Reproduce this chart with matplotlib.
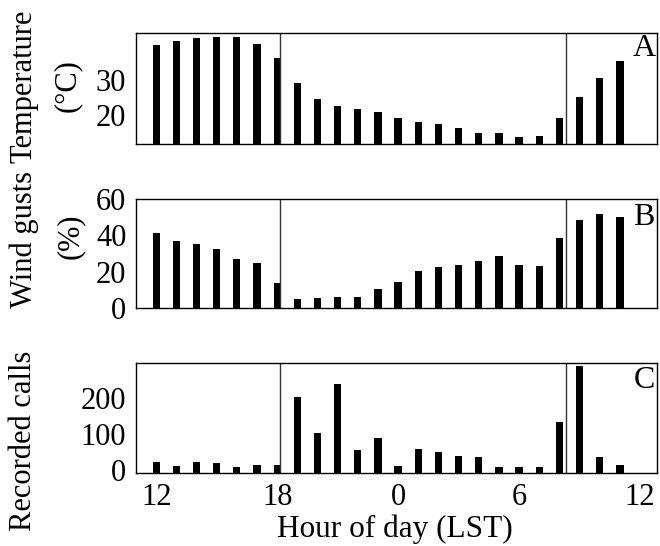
import matplotlib
matplotlib.use("Agg")
import matplotlib.pyplot as plt

# hour of day, 12 LST through 11 LST next day (as a continuous axis 12..35)
hours = list(range(12, 36))
temperature = [40.0, 41.2, 42.1, 42.4, 42.2, 40.3, 36.4, 29.2, 24.6, 22.6, 21.7, 20.8,
               19.2, 17.9, 17.5, 16.3, 14.7, 14.9, 13.8, 14.1, 19.0, 25.1, 30.6, 35.5]
wind_gusts = [41.4, 37.0, 35.0, 32.3, 27.0, 24.6, 13.9, 4.8, 5.7, 5.9, 6.2, 10.5,
              14.3, 20.4, 22.7, 23.7, 25.6, 28.6, 23.8, 23.1, 38.7, 48.4, 51.6, 49.9]
calls = [24, 12, 23, 22, 10, 14, 15, 204, 104, 239, 56, 89,
         12, 59, 52, 41, 38, 9, 10, 10, 135, 289, 38, 15]

# sunset / sunrise markers
sun_lines = [18.12, 32.33]

xtick_pos = [12, 18, 24, 30, 36]
xtick_labels = ["12", "18", "0", "6", "12"]

plt.rcParams["font.family"] = ["Liberation Serif", "DejaVu Serif"]
plt.rcParams["font.size"] = 22

W, H = 660, 546
fig = plt.figure(figsize=(W / 100, H / 100), dpi=100, facecolor="white")

def px_axes(top, bottom, left=136, right=657):
    return fig.add_axes([left / W, (H - bottom) / H, (right - left) / W, (bottom - top) / H])

panels = [
    dict(top=33, bottom=144, data=temperature, ylim=(11.7, 43.4), yticks=[20, 30], letter="A", ly=0.856),
    dict(top=199, bottom=308, data=wind_gusts, ylim=(0, 60), yticks=[0, 20, 40, 60], letter="B", ly=0.83),
    dict(top=363, bottom=473, data=calls, ylim=(-7, 298), yticks=[0, 100, 200], letter="C", ly=0.845),
]

axes = []
for p in panels:
    ax = px_axes(p["top"], p["bottom"])
    lo, hi = p["ylim"]
    ax.bar(hours, [v - lo for v in p["data"]], bottom=lo, width=0.36, color="black")
    for xl in sun_lines:
        ax.axvline(xl, color="#333333", lw=1.0)
    ax.set_xlim(11.0, 36.84)
    ax.set_ylim(lo, hi)
    ax.set_yticks(p["yticks"])
    ax.tick_params(axis="both", length=0, pad=7)
    for s in ax.spines.values():
        s.set_linewidth(1.0)
        s.set_color("black")
    ax.text(0.975, p["ly"], p["letter"], transform=ax.transAxes, ha="center", va="center", fontsize=23)
    axes.append(ax)

axes[0].set_xticks([])
axes[1].set_xticks([])
axes[2].set_xticks(xtick_pos)
axes[2].set_xticklabels(xtick_labels)
axes[2].tick_params(axis="x", pad=7)

fig.text(395 / W, 1 - 529 / H, "Hour of day (LST)", ha="center", va="center", fontsize=22.5)

# y labels, placed in pixels
def ylab(x, y, s):
    fig.text(x / W, 1 - y / H, s, rotation=90, ha="center", va="center", fontsize=22)

ylab(24, 86, "Temperature")
ylab(67, 86, "(°C)")
ylab(24, 240, "Wind gusts")
ylab(70, 236, "(%)")
ylab(24, 441, "Recorded calls")

fig.savefig("out.png", dpi=100, facecolor="white")
